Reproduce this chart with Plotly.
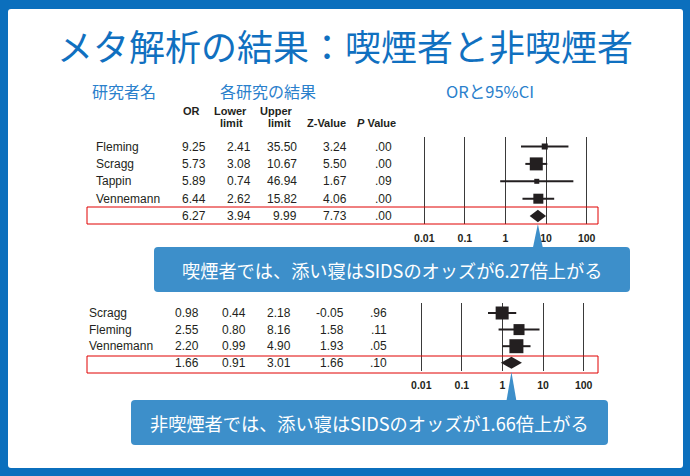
import plotly.graph_objects as go
import math

W, H = 690, 476

# ---------------- data ----------------
top_studies = ["Fleming", "Scragg", "Tappin", "Vennemann"]
top_or = [9.25, 5.73, 5.89, 6.44]
top_lower = [2.41, 3.08, 0.74, 2.62]
top_upper = [35.50, 10.67, 46.94, 15.82]
top_z = [3.24, 5.50, 1.67, 4.06]
top_p = [0.00, 0.00, 0.09, 0.00]
top_weight_px = [6, 13, 5, 10]
top_summary = [6.27, 3.94, 9.99, 7.73, 0.00]   # OR, lower, upper, Z, P

bot_studies = ["Scragg", "Fleming", "Vennemann"]
bot_or = [0.98, 2.55, 2.20]
bot_lower = [0.44, 0.80, 0.99]
bot_upper = [2.18, 8.16, 4.90]
bot_z = [-0.05, 1.58, 1.93]
bot_p = [0.96, 0.11, 0.05]
bot_weight_px = [13, 11, 14]
bot_summary = [1.66, 0.91, 3.01, 1.66, 0.10]

tick_vals = [0.01, 0.1, 1, 10, 100]
tick_text = ["0.01", "0.1", "1", "10", "100"]

title_text = "メタ解析の結果：喫煙者と非喫煙者"
col_titles = ["研究者名", "各研究の結果", "ORと95%CI"]
callout_top = "喫煙者では、添い寝はSIDSのオッズが6.27倍上がる"
callout_bot = "非喫煙者では、添い寝はSIDSのオッズが1.66倍上がる"

# ---------------- style ----------------
FRAME = "#0b6fbd"
TITLE_C = "#1070c0"
HEAD_C = "#2a80cc"
CALL_C = "#3d8fca"
INK = "#231f20"
JP = "Noto Sans CJK JP"
LAT = "Liberation Sans, Arial"


def fx(px):
    return px / W


def fy(py):
    return 1 - py / H


def rrect(x0, y0, x1, y1, r):
    pts = [("M", x0 + r, y0), ("L", x1 - r, y0), ("Q", x1, y0, x1, y0 + r),
           ("L", x1, y1 - r), ("Q", x1, y1, x1 - r, y1), ("L", x0 + r, y1),
           ("Q", x0, y1, x0, y1 - r), ("L", x0, y0 + r), ("Q", x0, y0, x0 + r, y0)]
    s = ""
    for p in pts:
        cmd = p[0]
        coords = p[1:]
        parts = []
        for i in range(0, len(coords), 2):
            parts.append(f"{fx(coords[i]):.5f},{fy(coords[i+1]):.5f}")
        s += cmd + " " + " ".join(parts) + " "
    return s + "Z"


def fmt_p(v):
    s = f"{v:.2f}"
    return s[1:] if s.startswith("0") else s


# axis geometry (pixels)
TOP_X = (404, 607)
BOT_X = (401, 604)
LOGR = (-2.5, 2.5)
TOP_Y = (137, 224)
BOT_Y = (303, 371)
TOP_ROW0, TOP_STEP = 146.5, 17.4
BOT_ROW0, BOT_STEP = 313.0, 16.6


def yrange(ypx, row0, step):
    top = (ypx[0] - row0) / step
    bot = (ypx[1] - row0) / step
    return [bot, top]


def or_to_px(v, xpx):
    return xpx[0] + (math.log10(v) - LOGR[0]) / (LOGR[1] - LOGR[0]) * (xpx[1] - xpx[0])


fig = go.Figure()


def add_forest(xa, ya, ors, los, his, sizes, summ):
    n = len(ors)
    xs, ys = [], []
    for i in range(n):
        xs += [los[i], his[i], None]
        ys += [i, i, None]
    fig.add_trace(go.Scatter(x=xs, y=ys, mode="lines", xaxis=xa, yaxis=ya,
                             line=dict(color=INK, width=2), hoverinfo="skip",
                             showlegend=False))
    fig.add_trace(go.Scatter(x=ors, y=list(range(n)), mode="markers", xaxis=xa, yaxis=ya,
                             marker=dict(symbol="square", size=sizes, color=INK,
                                         opacity=1, line=dict(width=0)),
                             showlegend=False))
    h = 0.36
    r = n
    fig.add_trace(go.Scatter(x=[summ[1], summ[0], summ[2], summ[0], summ[1]],
                             y=[r, r - h, r, r + h, r], mode="lines", fill="toself",
                             fillcolor=INK, line=dict(width=0, color=INK),
                             xaxis=xa, yaxis=ya, showlegend=False))


add_forest("x", "y", top_or, top_lower, top_upper, top_weight_px, top_summary)
add_forest("x2", "y2", bot_or, bot_lower, bot_upper, bot_weight_px, bot_summary)

xcommon = dict(type="log", range=list(LOGR), tickvals=tick_vals,
               ticktext=[f"<b>{t}</b>" for t in tick_text],
               tickfont=dict(family=LAT, size=10.5, color=INK),
               showgrid=True, gridcolor="#3a3a3a", gridwidth=1,
               zeroline=False, showline=False, ticks="outside", ticklen=4,
               tickcolor="rgba(0,0,0,0)", fixedrange=True)
ycommon = dict(showgrid=False, zeroline=False, showline=False,
               showticklabels=False, ticks="", fixedrange=True)

fig.update_layout(
    width=W, height=H, margin=dict(l=0, r=0, t=0, b=0),
    paper_bgcolor=FRAME, plot_bgcolor="rgba(0,0,0,0)",
    showlegend=False,
    xaxis=dict(domain=[fx(TOP_X[0]), fx(TOP_X[1])], anchor="y", **xcommon),
    yaxis=dict(domain=[fy(TOP_Y[1]), fy(TOP_Y[0])], anchor="x",
               range=yrange(TOP_Y, TOP_ROW0, TOP_STEP), **ycommon),
    xaxis2=dict(domain=[fx(BOT_X[0]), fx(BOT_X[1])], anchor="y2", **xcommon),
    yaxis2=dict(domain=[fy(BOT_Y[1]), fy(BOT_Y[0])], anchor="x2",
                range=yrange(BOT_Y, BOT_ROW0, BOT_STEP), **ycommon),
)

shapes = []
# white panel
shapes.append(dict(type="path", path=rrect(8, 9, 683, 468, 3), xref="paper", yref="paper",
                   fillcolor="white", line=dict(width=0), layer="below"))
# red summary boxes
shapes.append(dict(type="rect", xref="paper", yref="paper", x0=fx(87), x1=fx(598),
                   y0=fy(207), y1=fy(224), line=dict(color="#e00000", width=1),
                   layer="above"))
shapes.append(dict(type="rect", xref="paper", yref="paper", x0=fx(87), x1=fx(598),
                   y0=fy(356), y1=fy(373), line=dict(color="#e00000", width=1),
                   layer="above"))


def callout(x0, y0, x1, y1, tipx, tipy):
    shapes.append(dict(type="path", path=rrect(x0, y0, x1, y1, 4), xref="paper", yref="paper",
                       fillcolor=CALL_C, line=dict(width=0), layer="above"))
    p = (f"M {fx(tipx-5):.5f},{fy(y0+1):.5f} L {fx(tipx):.5f},{fy(tipy):.5f} "
         f"L {fx(tipx+5):.5f},{fy(y0+1):.5f} Z")
    shapes.append(dict(type="path", path=p, xref="paper", yref="paper",
                       fillcolor=CALL_C, line=dict(width=0), layer="above"))


callout(154, 247, 630, 292, or_to_px(top_summary[0], TOP_X), 224)
callout(131, 400, 608, 445, or_to_px(bot_summary[0], BOT_X), 372)
fig.update_layout(shapes=shapes)

ann = []
ann.append(dict(text=title_text, x=fx(345), y=fy(45), xref="paper", yref="paper",
                showarrow=False, xanchor="center", yanchor="middle",
                font=dict(family=JP, size=36, color=TITLE_C)))
for t, cx, sz in zip(col_titles, [124, 268, 490], [16, 16, 16.5]):
    ann.append(dict(text=t, x=fx(cx), y=fy(91), xref="paper", yref="paper",
                    showarrow=False, xanchor="center", yanchor="middle",
                    font=dict(family=JP, size=sz, color=HEAD_C)))

hdr_font = dict(family=LAT, size=11, color=INK)
for t, cx, cy in [("<b>OR</b>", 191.5, 111), ("<b>Lower</b>", 230.5, 111),
                  ("<b>limit</b>", 231.5, 123), ("<b>Upper</b>", 276, 111),
                  ("<b>limit</b>", 279, 123), ("<b>Z-Value</b>", 326, 123),
                  ("<b><i>P</i> Value</b>", 376.5, 123)]:
    ann.append(dict(text=t, x=fx(cx), y=fy(cy), xref="paper", yref="paper",
                    showarrow=False, xanchor="center", yanchor="middle", font=hdr_font))

cell_font = dict(family=LAT, size=12, color=INK)


def table(yref, names, ors, los, his, zs, ps, summ, name_x, cols):
    rows = []
    for i in range(len(names)):
        rows.append((names[i], [f"{ors[i]:.2f}", f"{los[i]:.2f}", f"{his[i]:.2f}",
                                f"{zs[i]:.2f}", fmt_p(ps[i])]))
    rows.append(("", [f"{summ[0]:.2f}", f"{summ[1]:.2f}", f"{summ[2]:.2f}",
                      f"{summ[3]:.2f}", fmt_p(summ[4])]))
    for i, (nm, vals) in enumerate(rows):
        if nm:
            ann.append(dict(text=nm, x=fx(name_x), y=i, xref="paper", yref=yref,
                            showarrow=False, xanchor="left", yanchor="middle",
                            font=cell_font))
        for v, cx in zip(vals, cols):
            ann.append(dict(text=v, x=fx(cx), y=i, xref="paper", yref=yref,
                            showarrow=False, xanchor="right", yanchor="middle",
                            font=cell_font))


table("y", top_studies, top_or, top_lower, top_upper, top_z, top_p, top_summary,
      94, [208, 253, 299, 349, 394])
table("y2", bot_studies, bot_or, bot_lower, bot_upper, bot_z, bot_p, bot_summary,
      87, [201, 248, 293, 346, 389])

ann.append(dict(text=callout_top, x=fx(392), y=fy(270), xref="paper", yref="paper",
                showarrow=False, xanchor="center", yanchor="middle",
                font=dict(family=JP, size=18.2, color="white")))
ann.append(dict(text=callout_bot, x=fx(369.5), y=fy(423), xref="paper", yref="paper",
                showarrow=False, xanchor="center", yanchor="middle",
                font=dict(family=JP, size=18.2, color="white")))
fig.update_layout(annotations=ann)

fig.write_html("out.html")
